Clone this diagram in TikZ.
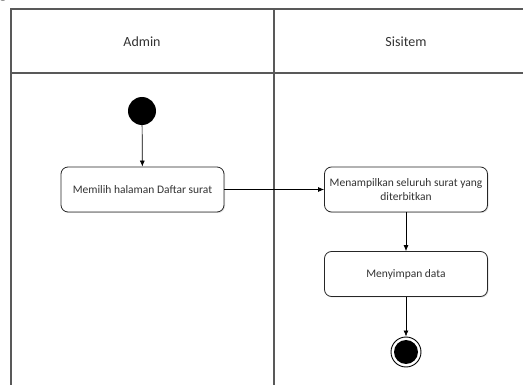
\documentclass[tikz,border=0pt]{standalone}
\usepackage{fontspec}
\setmainfont{Carlito}
\newfontfamily\serifg{Liberation Serif}
\usetikzlibrary{arrows.meta,shadows}
\begin{document}
\begin{tikzpicture}[x=1pt,y=-1pt,
  lane/.style={draw=black!65,line width=1.6pt},
  act/.style={draw=black!85,line width=0.8pt,rounded corners=7pt,fill=white,
    minimum width=163pt,minimum height=45pt,align=center,font=\fontsize{11.5}{13.5}\selectfont,
    text=black!80,drop shadow={shadow xshift=1pt,shadow yshift=-1pt,opacity=0.25}},
  flow/.style={draw=black,line width=0.7pt,-{Latex[length=6pt,width=5pt]}},
  hdr/.style={font=\fontsize{14}{16}\selectfont,text=black!80}]
\useasboundingbox (0,0) rectangle (523,385);
\node[anchor=base west,inner sep=0pt,font=\serifg\fontsize{16}{18}\selectfont] (g) at (-1,-2) {g};
% swimlanes
\draw[lane] (11,390) -- (11,9) -- (530,9);
\draw[lane] (11,73) -- (530,73);
\draw[lane] (274,9) -- (274,390);
\node[hdr] (h1) at (142,42) {Admin};
\node[hdr] (h2) at (406,42) {Sisitem};
% nodes
\node[circle,fill=black,minimum size=28pt,inner sep=0pt] (start) at (142,111) {};
\node[act] (a1) at (142.5,189.5) {Memilih halaman Daftar surat};
\node[act] (a2) at (406,189.5) {Menampilkan seluruh surat yang\\diterbitkan};
\node[act] (a3) at (406,274) {Menyimpan data};
\node[circle,draw=black,line width=0.9pt,fill=white,minimum size=30pt,inner sep=0pt] (end) at (406,352) {};
\node[circle,fill=black,minimum size=24pt,inner sep=0pt] (endin) at (end.center) {};
% flows
\draw[flow] (start) -- (a1);
\draw[flow] (a1) -- (a2);
\draw[flow] (a2) -- (a3);
\draw[flow] (a3) -- (end);
\end{tikzpicture}
\end{document}
